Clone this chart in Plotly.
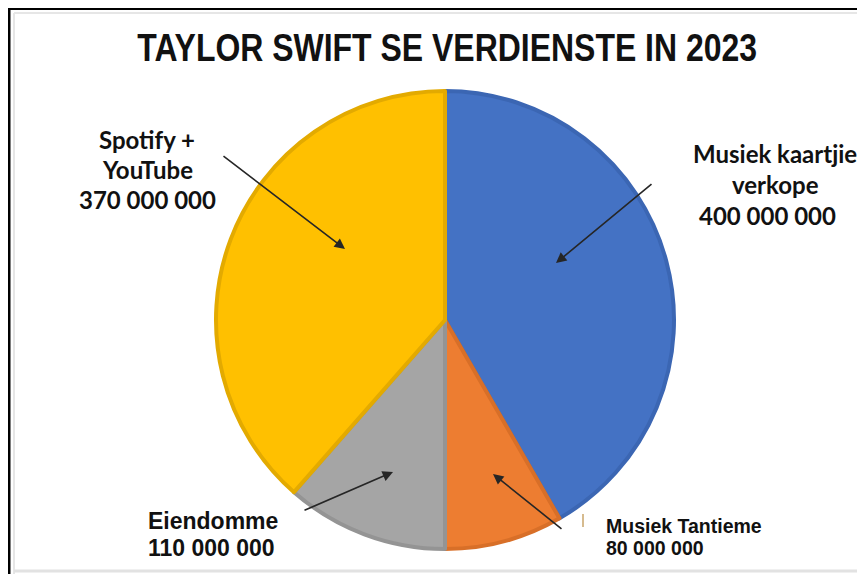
import plotly.graph_objects as go

# page offset (browser body margin) and figure size
OFF = 8
W, H = 865 - OFF, 574 - OFF

title = "TAYLOR SWIFT SE VERDIENSTE IN 2023"
categories = ["Musiek kaartjie verkope", "Musiek Tantieme", "Eiendomme", "Spotify + YouTube"]
values = [400000000, 80000000, 110000000, 370000000]
value_labels = ["400 000 000", "80 000 000", "110 000 000", "370 000 000"]
fill_colors = ["#4472C4", "#ED7D31", "#A5A5A5", "#FFC000"]
edge_colors = ["#3B66B3", "#D86F28", "#949494", "#E3AA00"]


def px(x):
    return (x - OFF) / W


def py(y):
    return (H - (y - OFF)) / H


fig = go.Figure()
fig.add_trace(go.Pie(
    labels=categories,
    values=values,
    sort=False,
    direction="clockwise",
    rotation=0,
    textinfo="none",
    hoverinfo="label+value",
    marker=dict(colors=fill_colors, line=dict(color=edge_colors, width=4)),
    domain=dict(x=[px(445 - 229), px(445 + 229)], y=[py(549), py(91)]),
    showlegend=False,
))

annotations = []
annotations.append(dict(
    text=title, x=px(447), y=py(47), xref="paper", yref="paper",
    showarrow=False, xanchor="center", yanchor="middle", align="center",
    font=dict(family="Liberation Sans", size=39, color="#111111", weight="bold"),
))

lab_font = dict(family="Lato", size=24, color="#111111")
arial_font = dict(family="Liberation Sans", size=23, color="#111111")
small_font = dict(family="Liberation Sans", size=19.5, color="#111111")


def line(text, x, y, font, anchor):
    annotations.append(dict(
        text="<b>" + text + "</b>", x=px(x), y=py(y), xref="paper", yref="paper",
        showarrow=False, xanchor=anchor, yanchor="middle", font=font,
    ))


# Spotify + YouTube
line("Spotify +", 147, 139, lab_font, "center")
line("YouTube", 147, 169, lab_font, "center")
line(value_labels[3], 147, 200, lab_font, "center")
# Musiek kaartjie verkope
line("Musiek kaartjie", 775, 153, lab_font, "center")
line("verkope", 775, 184, lab_font, "center")
line(value_labels[0], 767, 216, lab_font, "center")
# Eiendomme
line("Eiendomme", 146, 521, arial_font, "left")
line(value_labels[2], 146, 548, arial_font, "left")
# Musiek Tantieme
line("Musiek Tantieme", 604, 526, small_font, "left")
line(value_labels[1], 604, 548, small_font, "left")

# Arrows (head, tail) in pixel positions
arrows = [((345, 249), (222, 155)), ((556, 263), (653, 183)),
          ((393, 472), (303, 511)), ((493, 474), (563, 530))]
for (hx, hy), (tx, ty) in arrows:
    annotations.append(dict(
        x=px(hx), y=py(hy), xref="paper", yref="paper", text="",
        showarrow=True, ax=tx - hx, ay=ty - hy, axref="pixel", ayref="pixel",
        arrowhead=2, arrowsize=1.3, arrowwidth=1.6, arrowcolor="#262626",
    ))

shapes = [
    dict(type="line", xref="paper", yref="paper", x0=px(9), x1=1.0, y0=py(8.5), y1=py(8.5),
         line=dict(color="black", width=3)),
    dict(type="line", xref="paper", yref="paper", x0=px(9), x1=px(9), y0=py(8), y1=0,
         line=dict(color="black", width=3)),
    dict(type="line", xref="paper", yref="paper", x0=px(14), x1=1.0, y0=py(13), y1=py(13),
         line=dict(color="#E6E6E6", width=2)),
    dict(type="line", xref="paper", yref="paper", x0=px(14), x1=px(14), y0=py(13), y1=0,
         line=dict(color="#E6E6E6", width=2)),
    dict(type="line", xref="paper", yref="paper", x0=px(14), x1=1.0, y0=py(571), y1=py(571),
         line=dict(color="#E2E2E2", width=3)),
    dict(type="line", xref="paper", yref="paper", x0=px(583), x1=px(583), y0=py(514), y1=py(527),
         line=dict(color="#C9A46A", width=1.5)),
]

fig.update_layout(
    width=W, height=H,
    margin=dict(l=0, r=0, t=0, b=0),
    paper_bgcolor="white", plot_bgcolor="white",
    annotations=annotations, shapes=shapes,
)

# Condense the title horizontally to the reference's narrow lettering
post = """
var gd = document.getElementById('{plot_id}');
function squeezeTitle() {
  var els = gd.querySelectorAll('.annotation-text');
  if (!els.length) { return; }
  var t = els[0];
  var w = t.getComputedTextLength();
  if (!w) { return; }
  var s = 620 / w;
  var cx = parseFloat(t.getAttribute('x')) || 0;
  t.setAttribute('transform', 'translate(' + (cx * (1 - s)) + ',0) scale(' + s + ',1)');
}
squeezeTitle();
if (gd.on) { gd.on('plotly_afterplot', squeezeTitle); }
"""

fig.write_html("out.html", post_script=post)
